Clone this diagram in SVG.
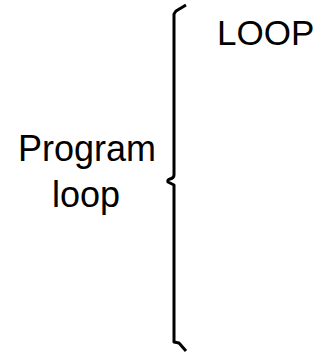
<svg xmlns="http://www.w3.org/2000/svg" width="321" height="357" viewBox="0 0 321 357">
<style>
text{font-family:"Liberation Sans",Arial,sans-serif;font-size:36px;fill:#000}
.brace{fill:none;stroke:#000;stroke-width:3;stroke-linejoin:round}
</style>
<rect width="321" height="357" fill="#fff"/>
<g id="brace">
<path class="brace" d="M186,5 L181,8 L176,11 L174,14 L174,175 Q174,178 170,179 Q167,180 168,182 Q170,183 174,185 L174,342 L179,343 L186,351"/>
</g>
<g id="label-loop-top"><text x="217" y="45" style="font-size:35px">LOOP</text></g>
<g id="label-program"><text x="87" y="161" text-anchor="middle">Program</text><text x="86" y="207" text-anchor="middle">loop</text></g>
</svg>
